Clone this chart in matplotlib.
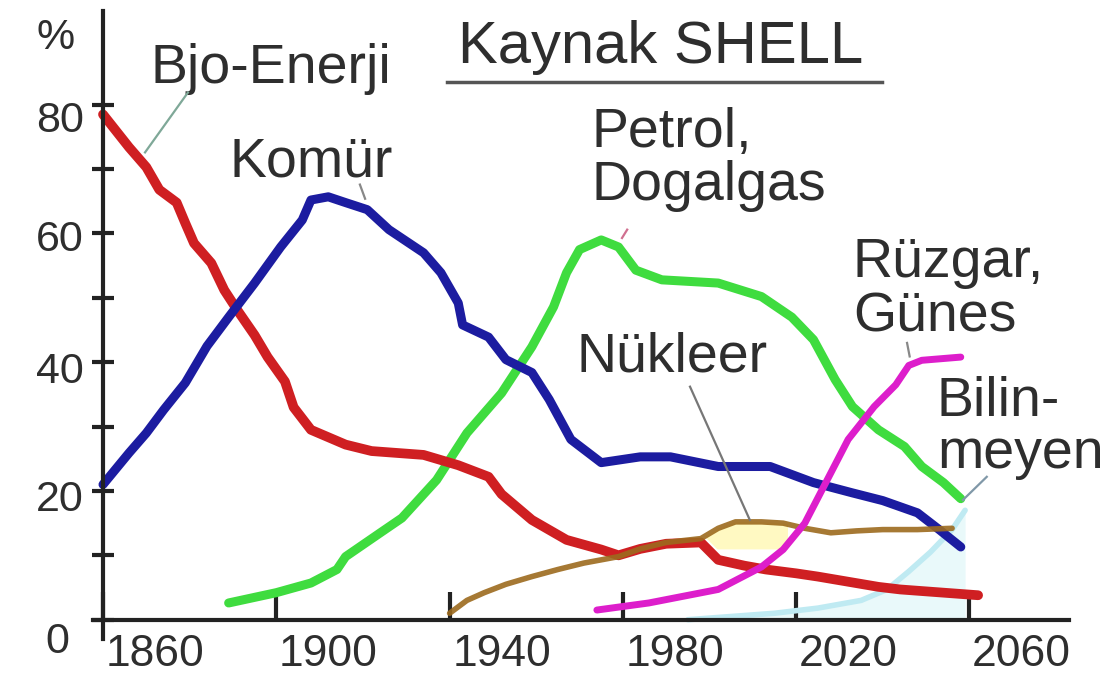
import matplotlib
matplotlib.use("Agg")
import matplotlib.pyplot as plt
import matplotlib.transforms as mtransforms
from matplotlib.lines import Line2D
import numpy as np

# ---- data (share of energy supply, %) ----
bio_years = [1860, 1866, 1870, 1873, 1877, 1879, 1881, 1885, 1888, 1891, 1895, 1898,
             1902, 1904, 1908, 1916, 1922, 1934, 1942, 1949, 1952, 1959, 1967, 1975,
             1979, 1984, 1990, 1998, 2002, 2008, 2013, 2020, 2025, 2032, 2039, 2044,
             2050, 2056, 2062]
bio = [78.5, 73.4, 70.3, 66.8, 64.8, 61.6, 58.5, 55.4, 51.2, 48.1, 44.2, 40.8,
       37.0, 33.0, 29.5, 27.2, 26.2, 25.6, 24.0, 22.2, 19.5, 15.5, 12.4, 10.9,
       10.0, 11.0, 11.8, 12.0, 9.3, 8.4, 7.8, 7.2, 6.7, 5.9, 5.1, 4.7,
       4.4, 4.1, 3.8]

coal_years = [1860, 1866, 1870, 1874, 1879, 1884, 1889, 1895, 1901, 1906, 1908, 1912,
              1916, 1921, 1926, 1934, 1938, 1942, 1943, 1949, 1953, 1959, 1963, 1968,
              1975, 1984, 1991, 2002, 2014, 2024, 2033, 2040, 2048, 2053, 2058]
coal = [21.0, 25.9, 29.0, 32.6, 36.8, 42.5, 47.0, 52.3, 57.9, 62.1, 65.2, 65.7,
        64.8, 63.7, 60.6, 57.0, 53.9, 49.2, 45.8, 43.9, 40.4, 38.4, 34.2, 28.0,
        24.4, 25.3, 25.3, 23.8, 23.8, 21.3, 19.7, 18.5, 16.6, 14.0, 11.3]

oil_years = [1889, 1900, 1908, 1914, 1916, 1924, 1929, 1937, 1944, 1952, 1959, 1964,
             1967, 1970, 1975, 1979, 1983, 1989, 2002, 2012, 2019, 2024, 2029, 2033,
             2039, 2045, 2049, 2054, 2058]
oil = [2.6, 4.2, 5.7, 7.8, 9.8, 13.5, 15.8, 21.7, 29.0, 35.2, 42.4, 48.6,
       53.9, 57.5, 59.0, 57.9, 54.3, 52.8, 52.3, 50.2, 47.0, 43.5, 37.3, 33.1,
       29.5, 26.9, 23.8, 21.3, 18.8]

renew_years = [1974, 1986, 2002, 2012, 2017, 2022, 2026, 2032, 2038, 2043, 2046, 2049, 2058]
renew = [1.5, 2.6, 4.7, 8.2, 10.9, 15.0, 20.2, 28.0, 33.1, 36.5, 39.5, 40.3, 40.8]

nuc_years = [1940, 1944, 1948, 1953, 1959, 1965, 1971, 1979, 1984, 1990, 1998, 2002,
             2006, 2012, 2017, 2022, 2028, 2034, 2040, 2048, 2056]
nuc = [1.0, 3.0, 4.2, 5.5, 6.7, 7.8, 8.8, 9.8, 11.0, 12.0, 12.6, 14.2,
       15.2, 15.2, 15.0, 14.2, 13.5, 13.8, 14.0, 14.0, 14.2]

unknown_years = [1995, 2005, 2015, 2025, 2035, 2041, 2046, 2051, 2056, 2059]
unknown = [0.0, 0.5, 1.0, 1.8, 3.0, 4.7, 7.5, 10.5, 14.0, 17.0]

x_ticks = [1860, 1900, 1940, 1980, 2020, 2060]
y_ticks = [0, 20, 40, 60, 80]
y_minor = [10, 30, 50, 70]

# label text, left x (year), first baseline (%), line step (%)
labels = [
    (["Bjo-Enerji"], 1870.9, 83.4, 0),
    (["Komür"], 1889.3, 68.8, 0),
    (["Petrol,", "Dogalgas"], 1972.8, 73.5, 8.3),
    (["Nükleer"], 1969.4, 38.5, 0),
    (["Rüzgar,", "Günes"], 2033.1, 53.3, 8.5),
    (["Bilin-", "meyen"], 2052.5, 31.6, 8.0),
]
# leader lines: ((x0, y0), (x1, y1), colour)
leaders = [
    ((1879.6, 81.9), (1869.7, 72.6), "#7fa898"),
    ((1919.3, 67.6), (1920.5, 65.4), "#888888"),
    ((1981.0, 60.6), (1979.8, 59.3), "#d07090"),
    ((1995.5, 36.2), (2009.3, 15.5), "#777777"),
    ((2045.6, 43.0), (2046.2, 40.9), "#888888"),
    ((2064.0, 22.2), (2058.5, 18.6), "#8098a8"),
]

FONT = "Liberation Sans"
TXT = "#2e2e2e"

fig = plt.figure(figsize=(11.17, 6.97), dpi=100)
ax = fig.add_axes([0.0833, 0.0832, 0.8738, 0.9004])
ax.set_xlim(1857.7, 2083)
ax.set_ylim(-3, 94.5)

# background washes
ax.fill_between(unknown_years, 0, unknown, color="#c8f0f4", alpha=0.4, lw=0, zorder=1)
yy = np.linspace(1998, 2018, 60)
nn = np.interp(yy, nuc_years, nuc)
rr = np.interp(yy, bio_years, bio)
low = np.maximum(rr + 1.5, 11.0)
ax.fill_between(yy, low, nn, where=nn > low, color="#fff59a", alpha=0.6, lw=0, zorder=1)

kw = dict(solid_capstyle="round", solid_joinstyle="round")
ax.plot(unknown_years, unknown, color="#bfeaf2", lw=4, zorder=2, **kw)
ax.plot(oil_years, oil, color="#3fdc3f", lw=6.5, zorder=3, **kw)
ax.plot(coal_years, coal, color="#1c1ca0", lw=6.5, zorder=4, **kw)
ax.plot(bio_years, bio, color="#cf1f22", lw=7, zorder=3, **kw)
ax.plot(nuc_years, nuc, color="#9c6a1e", lw=4, zorder=5, alpha=0.9, **kw)
ax.plot(renew_years, renew, color="#dd1ecb", lw=5, zorder=6, **kw)

# axes
for s in ["top", "right"]:
    ax.spines[s].set_visible(False)
ax.spines["left"].set_position(("data", 1860))
ax.spines["bottom"].set_position(("data", 0))
for s in ["left", "bottom"]:
    ax.spines[s].set_linewidth(3)
    ax.spines[s].set_color("#222222")
    ax.spines[s].set_zorder(7)

ax.set_xticks(x_ticks)
ax.set_xticklabels([str(v) for v in x_ticks])
ax.set_yticks(y_ticks)
ax.set_yticklabels([str(v) for v in y_ticks])
ax.set_yticks(y_minor, minor=True)
ax.tick_params(axis="x", direction="in", length=20, width=3, color="#222222", pad=10,
               labelsize=32, labelcolor=TXT)
ax.tick_params(axis="y", which="both", direction="inout", length=16, width=3,
               color="#222222", pad=6, labelsize=31, labelcolor=TXT)
for lab in ax.get_xticklabels() + ax.get_yticklabels():
    lab.set_family(FONT)

# shift tick labels the way the original sets them
dx = mtransforms.ScaledTranslation(0.52, 0, fig.dpi_scale_trans)
for lab in ax.get_xticklabels():
    lab.set_transform(lab.get_transform() + dx)
y_shift = {0: (-0.14, -0.18), 20: (0, -0.05), 40: (0, -0.05), 60: (0, -0.02), 80: (0, -0.12)}
for v, lab in zip(y_ticks, ax.get_yticklabels()):
    sx, sy = y_shift[v]
    lab.set_transform(lab.get_transform() +
                      mtransforms.ScaledTranslation(sx, sy, fig.dpi_scale_trans))

# series labels
for lines, x0, y0, step in labels:
    for i, t in enumerate(lines):
        ax.text(x0, y0 - i * step, t, ha="left", va="baseline", fontsize=40,
                family=FONT, color=TXT, clip_on=False, zorder=8)
for (x0, y0), (x1, y1), c in leaders:
    ax.plot([x0, x1], [y0, y1], color=c, lw=1.6, zorder=8, clip_on=False)

# title and unit
fig.text(0.410, 0.9096, "Kaynak SHELL", ha="left", va="baseline", fontsize=43,
         family=FONT, color=TXT)
fig.add_artist(Line2D([0.400, 0.790], [0.8823, 0.8823], color="#555555", lw=2.5,
                      transform=fig.transFigure))
fig.text(0.050, 0.945, "%", ha="center", va="center", fontsize=31, family=FONT, color=TXT)

fig.savefig("out.png", dpi=100)
